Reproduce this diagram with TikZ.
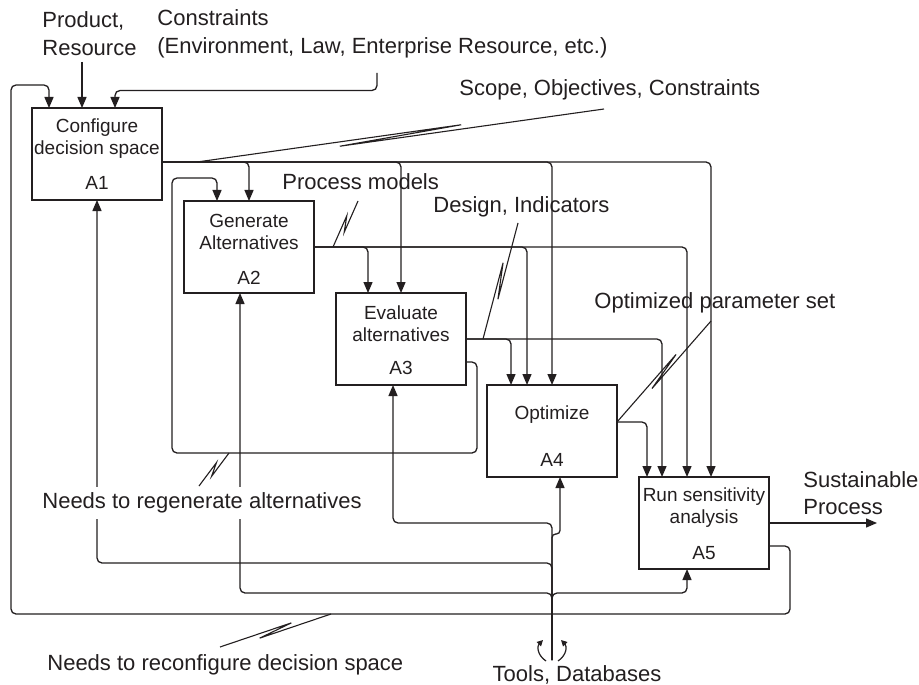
\documentclass[tikz,border=0pt]{standalone}
\usepackage{fontspec}
\setmainfont{Liberation Sans}
\usetikzlibrary{arrows.meta,calc}
\definecolor{ink}{RGB}{35,31,32}
\tikzset{
 box/.style={draw=ink, line width=0.65pt, minimum width=65pt, minimum height=46pt, inner sep=0pt, outer sep=0pt},
 btxt/.style={font=\fontsize{9.5}{11}\selectfont, text=ink, align=center, inner sep=0pt},
 lbl/.style={font=\fontsize{11}{14}\selectfont, text=ink, align=left, inner sep=0pt, anchor=west},
 conn/.style={draw=ink, line width=0.65pt, rounded corners=2.5pt},
 arr/.style={conn, -{Triangle[length=5.5pt,width=4.5pt]}},
 tinyarr/.style={draw=ink, line width=0.6pt, -{Triangle[length=3pt,width=3pt]}},
 lead/.style={draw=ink, line width=0.55pt},
}
\newcommand\zigzag[2]{\draw[lead] (#1) -- ($(#1)!0.65!(#2)!1.4pt!90:(#2)$) -- ($(#1)!0.35!(#2)!1.4pt!-90:(#2)$) -- (#2);}
\begin{document}
\begin{tikzpicture}[x=0.5pt,y=-0.5pt]
\fill[white] (0,0) rectangle (919,684);
\useasboundingbox (0,0) rectangle (919,684);

% boxes
\node[box] (A1) at (97,154) {};
\node[box] (A2) at (249,247) {};
\node[box] (A3) at (401,339) {};
\node[box] (A4) at (552,431) {};
\node[box] (A5) at (704,523) {};

\node[btxt] (A1t) at ($(A1)+(0,-15)$) {Configure\\decision space};
\node[btxt] (A1n) at ($(A1)+(0,29)$) {A1};
\node[btxt] (A2t) at ($(A2)+(0,-15.5)$) {Generate\\Alternatives};
\node[btxt] (A2n) at ($(A2)+(0,31)$) {A2};
\node[btxt] (A3t) at ($(A3)+(0,-15)$) {Evaluate\\alternatives};
\node[btxt] (A3n) at ($(A3)+(0,29)$) {A3};
\node[btxt] (A4t) at ($(A4)+(0,-16)$) {Optimize};
\node[btxt] (A4n) at ($(A4)+(0,29)$) {A4};
\node[btxt] (A5t) at ($(A5)+(0,-15.5)$) {Run sensitivity\\analysis};
\node[btxt] (A5n) at ($(A5)+(0,30)$) {A5};

% inputs to A1
\coordinate (pin) at (82,62);
\draw[arr] (pin) -- ($(A1.north west)+(50,0)$);
\coordinate (cin) at (377,73);
\draw[arr] (cin) -- (377,90.5) -- (115,90.5) -- ($(A1.north west)+(83,0)$);

% feedback from A5 to A1
\draw[arr] ($(A5.north east)+(0,69)$) -- (790,546) -- (790,614) -- (11,614) -- (11,85) -- (49,85) -- ($(A1.north west)+(17,0)$);

% A1 output (controls)
\coordinate (A1o) at ($(A1.north east)+(0,54)$);
\draw[arr] (A1o) -- (249,162) -- (A2.north);
\draw[arr] (A1o) -- (401,162) -- (A3.north);
\draw[arr] (A1o) -- (552,162) -- (A4.north);
\draw[arr] (A1o) -- (711,162) -- ($(A5.north west)+(72,0)$);

% A2 output
\draw[arr] (A2.east) -- (368,247) -- ($(A3.north west)+(32,0)$);
\draw[arr] (A2.east) -- (527,247) -- ($(A4.north west)+(40,0)$);
\draw[arr] (A2.east) -- (687,247) -- ($(A5.north west)+(48,0)$);

% A3 output
\draw[arr] (A3.east) -- (511,339) -- ($(A4.north west)+(24,0)$);
\draw[arr] (A3.east) -- (662,339) -- ($(A5.north west)+(23,0)$);

% A4 output
\draw[arr] ($(A4.north east)+(0,37)$) -- (647,422) -- ($(A5.north west)+(8,0)$);

% regenerate loop A3 -> A2
\draw[arr] ($(A3.north east)+(0,69)$) -- (477,362) -- (477,453) -- (172,453) -- (172,178) -- (217,178) -- ($(A2.north west)+(33,0)$);

% A5 output
\coordinate (out) at (877,523);
\draw[arr] (A5.east) -- (out);

% mechanisms
\coordinate (tl) at (552,660);
\draw[arr] (tl) -- (552,523) -- (393,523) -- ($(A3.south west)+(57,0)$);
\draw[arr, rounded corners=1.8pt] (tl) -- (552,534) -- (560,534) -- ($(A4.south west)+(73,0)$);
\draw[arr] (tl) -- (552,563) -- (97,563) -- (A1.south);
\draw[arr] (tl) -- (552,593) -- (240,593) -- ($(A2.south west)+(56,0)$);
\draw[arr] (tl) -- (552,593) -- (687,593) -- ($(A5.south west)+(48,0)$);

% tunnel marks
\coordinate (tm1a) at (546,661); \coordinate (tm1b) at (543,640);
\coordinate (tm2a) at (558,661); \coordinate (tm2b) at (561,640);
\draw[tinyarr] (tm1a) .. controls (537,655) and (537,646) .. (tm1b);
\draw[tinyarr] (tm2a) .. controls (567,655) and (567,646) .. (tm2b);

% labels
\node[lbl] (lprod) at (42,34) {Product,\\Resource};
\node[lbl] (lcons) at (157,34) {Constraints\\(Environment, Law, Enterprise Resource, etc.)};
\node[lbl] (lscope) at (459,90) {Scope, Objectives, Constraints};
\node[lbl] (lproc) at (282,182) {Process models};
\node[lbl] (ldes) at (433,207) {Design, Indicators};
\node[lbl] (lopt) at (594,303) {Optimized parameter set};
\node[lbl, fill=white, inner ysep=3pt] (lregen) at (42,503) {Needs to regenerate alternatives};
\node[lbl] (lreconf) at (47,665) {Needs to reconfigure decision space};
\node[lbl, anchor=center] (ltools) at (577,675) {Tools, Databases};
\node[lbl, font=\fontsize{11}{13.5}\selectfont] (lsust) at (803,493) {Sustainable\\Process};

% label leaders with squiggles
\coordinate (q1a) at (197,162); \coordinate (q1b) at (604,109);
\zigzag{q1a}{q1b}
\coordinate (q2a) at (333,247); \coordinate (q2b) at (358,201);
\zigzag{q2a}{q2b}
\coordinate (q3a) at (483,339); \coordinate (q3b) at (518,223);
\zigzag{q3a}{q3b}
\coordinate (q4a) at (617,422); \coordinate (q4b) at (711,321);
\zigzag{q4a}{q4b}
\coordinate (q5a) at (229,453); \coordinate (q5b) at (199,486);
\zigzag{q5a}{q5b}
\coordinate (q6a) at (331,614); \coordinate (q6b) at (220,647);
\zigzag{q6a}{q6b}
\end{tikzpicture}
\end{document}
